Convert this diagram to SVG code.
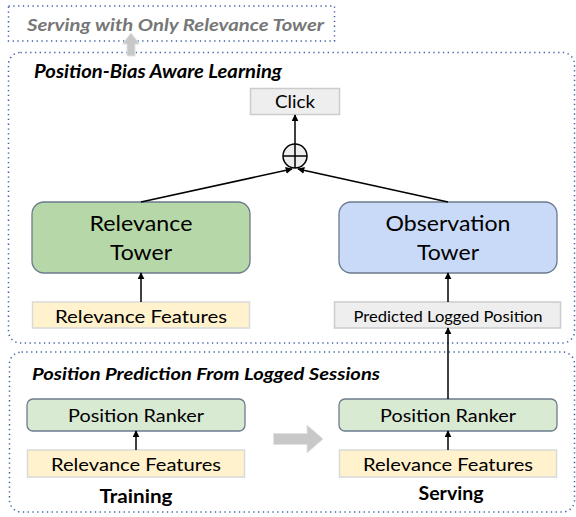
<svg xmlns="http://www.w3.org/2000/svg" width="576" height="517" viewBox="0 0 576 517">
<defs>
<marker id="ah" viewBox="0 0 10 10" refX="9" refY="5" markerWidth="7" markerHeight="7" markerUnits="userSpaceOnUse" orient="auto">
<path d="M0,0 L10,5 L0,10 z" fill="#000"/>
</marker>
</defs>
<style>
.dot{fill:none;stroke:#3d5fa8;stroke-width:1.5;stroke-dasharray:1.3 3.5}
.t{font-family:Lato,"Liberation Sans",Arial,sans-serif;fill:#000;text-anchor:middle}
.ti{font-family:Lato,"Liberation Sans",Arial,sans-serif;font-weight:bold;font-style:italic}
.b{font-weight:bold}
.rel{fill:#b6d7a8;stroke:#6b7b8c;stroke-width:1.3}
.obs{fill:#c9daf8;stroke:#6b7b8c;stroke-width:1.3}
.rank{fill:#d9ead3;stroke:#6b7b8c;stroke-width:1.3}
.feat{fill:#fff2cc;stroke:#d9d9d9;stroke-width:1.5}
.grey{fill:#eeeeee;stroke:#cccccc;stroke-width:1.5}
.c{fill:none;stroke:#000;stroke-width:1.5}
</style>

<g id="serving-only">
<rect class="dot" x="8.5" y="6" width="326" height="35"/>
<text class="ti" x="27" y="31" font-size="17.5" fill="#777" textLength="297" lengthAdjust="spacingAndGlyphs">Serving with Only Relevance Tower</text>
</g>

<g id="pbal">
<rect class="dot" x="8.5" y="52.5" width="566" height="290.5" rx="12"/>
<text class="ti" x="34" y="78" font-size="18" fill="#000" textLength="248" lengthAdjust="spacingAndGlyphs">Position-Bias Aware Learning</text>
</g>

<g id="ppls">
<rect class="dot" x="9.5" y="352" width="565" height="160" rx="12"/>
<text class="ti" x="32" y="380" font-size="17.5" fill="#000" textLength="348" lengthAdjust="spacingAndGlyphs">Position Prediction From Logged Sessions</text>
</g>

<g id="up-arrow">
<path d="M127,56 L127,44 L122.5,44 L131,33 L139.5,44 L135,44 L135,56 z" fill="#c8c8c8" stroke="#e2e2e2" stroke-width="1"/>
</g>

<g id="click">
<rect class="grey" x="250.5" y="88.5" width="89" height="26"/>
<text class="t" x="295" y="108" font-size="17.5" textLength="40" lengthAdjust="spacingAndGlyphs">Click</text>
</g>

<g id="plus">
<circle cx="295" cy="156" r="12" fill="#eeeeee" stroke="#000" stroke-width="1.5"/>
<line x1="283" y1="156" x2="307" y2="156" stroke="#000" stroke-width="1.5"/>
<line x1="295" y1="144" x2="295" y2="168" stroke="#000" stroke-width="1.5"/>
</g>

<g id="relevance-tower">
<rect class="rel" x="32" y="202" width="218" height="71" rx="12"/>
<text class="t" x="141" y="231" font-size="21" textLength="103" lengthAdjust="spacingAndGlyphs">Relevance</text>
<text class="t" x="141" y="260" font-size="21" textLength="62" lengthAdjust="spacingAndGlyphs">Tower</text>
</g>

<g id="observation-tower">
<rect class="obs" x="339" y="202" width="218" height="71" rx="12"/>
<text class="t" x="448" y="231" font-size="21" textLength="125" lengthAdjust="spacingAndGlyphs">Observation</text>
<text class="t" x="448" y="260" font-size="21" textLength="62" lengthAdjust="spacingAndGlyphs">Tower</text>
</g>

<g id="relevance-features-top">
<rect class="feat" x="32.5" y="302" width="217" height="26"/>
<text class="t" x="141" y="322.5" font-size="18" textLength="172" lengthAdjust="spacingAndGlyphs">Relevance Features</text>
</g>

<g id="predicted-logged-position">
<rect class="grey" x="334.5" y="302" width="226" height="26"/>
<text class="t" x="448" y="321.5" font-size="15.5" textLength="189" lengthAdjust="spacingAndGlyphs">Predicted Logged Position</text>
</g>

<g id="ranker-training">
<rect class="rank" x="27" y="399" width="218" height="32" rx="6"/>
<text class="t" x="136" y="422" font-size="18" textLength="136" lengthAdjust="spacingAndGlyphs">Position Ranker</text>
</g>

<g id="features-training">
<rect class="feat" x="27.5" y="450" width="217" height="27"/>
<text class="t" x="136" y="471" font-size="18" textLength="170" lengthAdjust="spacingAndGlyphs">Relevance Features</text>
</g>

<g id="label-training">
<text class="t b" x="136" y="503" font-size="19" textLength="73" lengthAdjust="spacingAndGlyphs">Training</text>
</g>

<g id="ranker-serving">
<rect class="rank" x="339" y="399" width="218" height="32" rx="6"/>
<text class="t" x="448" y="422" font-size="18" textLength="136" lengthAdjust="spacingAndGlyphs">Position Ranker</text>
</g>

<g id="features-serving">
<rect class="feat" x="339.5" y="450" width="217" height="27"/>
<text class="t" x="448" y="471" font-size="18" textLength="170" lengthAdjust="spacingAndGlyphs">Relevance Features</text>
</g>

<g id="label-serving">
<text class="t b" x="451" y="500" font-size="18.5" textLength="65" lengthAdjust="spacingAndGlyphs">Serving</text>
</g>

<g id="train-to-serve">
<path d="M273.5,433.5 L307,433.5 L307,425 L323,439 L307,453 L307,444.5 L273.5,444.5 z" fill="#c8c8c8" stroke="#e2e2e2" stroke-width="1"/>
</g>

<g id="connectors">
<line class="c" x1="295" y1="144" x2="295" y2="115" marker-end="url(#ah)"/>
<line class="c" x1="141" y1="202" x2="292" y2="169" marker-end="url(#ah)"/>
<line class="c" x1="448" y1="202" x2="298" y2="169" marker-end="url(#ah)"/>
<line class="c" x1="141" y1="302" x2="141" y2="273" marker-end="url(#ah)"/>
<line class="c" x1="448" y1="302" x2="448" y2="273" marker-end="url(#ah)"/>
<line class="c" x1="448" y1="399" x2="448" y2="328" marker-end="url(#ah)"/>
<line class="c" x1="136" y1="450" x2="136" y2="431" marker-end="url(#ah)"/>
<line class="c" x1="448" y1="450" x2="448" y2="431" marker-end="url(#ah)"/>
</g>
</svg>
